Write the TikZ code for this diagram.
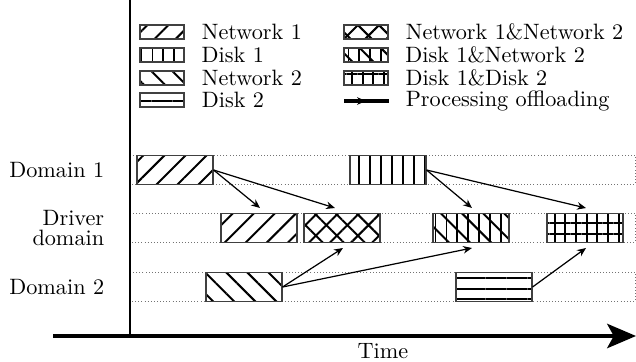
\documentclass[tikz,border=0pt]{standalone}
\usepackage{amsmath,amssymb}
\usetikzlibrary{patterns.meta,arrows.meta}

\tikzset{
slot/.style={draw=black!75, line width=.5pt, minimum width=34.2pt, minimum height=13.05pt, inner sep=0pt},
key/.style={minimum width=19.8pt, minimum height=6.3pt},
netone/.style={slot, pattern={Lines[angle=45,distance=6.7pt,line width=.9pt]}},
nettwo/.style={slot, pattern={Lines[angle=-45,distance=6.7pt,line width=.9pt]}},
diskone/.style={slot, pattern={Lines[angle=90,distance=4.9pt,line width=.8pt]}},
disktwo/.style={slot, pattern={Lines[angle=0,distance=4.7pt,line width=.9pt]}},
netboth/.style={slot, pattern={Hatch[angle=45,distance=6.7pt,line width=.9pt]}},
disknet/.style={slot, preaction={pattern={Lines[angle=90,distance=4.9pt,line width=.8pt]}},
  pattern={Lines[angle=-45,distance=6.7pt,line width=.9pt]}},
diskboth/.style={slot, pattern={Hatch[angle=0,distance=4.8pt,line width=.8pt]}},
band/.style={draw=black!55, densely dotted, line width=.4pt},
offload/.style={-{Stealth[length=4pt,width=3.4pt]}, line width=.55pt}
}

\begin{document}
\begin{tikzpicture}[x=.45pt,y=-.45pt]
\useasboundingbox (0,0) rectangle (636,362);
% rows
\draw[band] (130,155) rectangle (635,184);
\draw[band] (130,213) rectangle (635,242);
\draw[band] (130,272) rectangle (635,301);
% axes
\draw[line width=.9pt] (130,0) -- (130,336);
\path (53,336) coordinate (t0) (636,336) coordinate (t1);
\draw[line width=1.4pt, -{Stealth[length=13pt,width=11pt,inset=3pt]}] (t0) -- (t1);
\path (383,351) node (time) {Time};
% labels
\path
(112,170) node[anchor=east] (d1) {Domain 1}
(112,228) node[anchor=east, align=right] (dd) {Driver\\[-3pt]domain}
(112,287) node[anchor=east] (d2) {Domain 2};
% legend
\path
(162,32) node[netone,key] (k1) {}
(162,55) node[diskone,key] (k2) {}
(162,78) node[nettwo,key] (k3) {}
(162,100) node[disktwo,key] (k4) {}
(366,32) node[netboth,key] (k5) {}
(366,55) node[disknet,key] (k6) {}
(366,78) node[diskboth,key] (k7) {}
(344,101) coordinate (k8a) (366,101) coordinate (k8m) (389,101) coordinate (k8b);
\path
(k1.east) ++(9,0) node[anchor=west] {Network 1}
(k2.east) ++(9,0) node[anchor=west] {Disk 1}
(k3.east) ++(9,0) node[anchor=west] {Network 2}
(k4.east) ++(9,0) node[anchor=west] {Disk 2}
(k5.east) ++(9,0) node[anchor=west] {Network 1\&Network 2}
(k6.east) ++(9,0) node[anchor=west] {Disk 1\&Network 2}
(k7.east) ++(9,0) node[anchor=west] {Disk 1\&Disk 2}
(k8b) ++(9,0) node[anchor=west] {Processing offloading};
\draw[line width=1.4pt] (k8a) -- (k8b);
\draw[line width=1.4pt, -{Stealth[length=4pt,width=3.4pt]}] (k8a) -- (k8m);
% slots
\path
(175,170) node[netone] (A) {}
(388,170) node[diskone] (B) {}
(259,228) node[netone] (C) {}
(342,228) node[netboth] (D) {}
(471,228) node[disknet] (E) {}
(585,228) node[diskboth] (F) {}
(244,287) node[nettwo] (G) {}
(494,287) node[disktwo] (H) {};
\path
(260,208) coordinate (c1) (335,208) coordinate (d1t)
(343,248) coordinate (d2t) (472,248) coordinate (e2t)
(472,208) coordinate (e1t) (586,208) coordinate (f1t)
(586,248) coordinate (f2t);
\draw[offload] (A.east) -- (c1);
\draw[offload] (A.east) -- (d1t);
\draw[offload] (G.east) -- (d2t);
\draw[offload] (G.east) -- (e2t);
\draw[offload] (B.east) -- (e1t);
\draw[offload] (B.east) -- (f1t);
\draw[offload] (H.east) -- (f2t);
\end{tikzpicture}
\end{document}
